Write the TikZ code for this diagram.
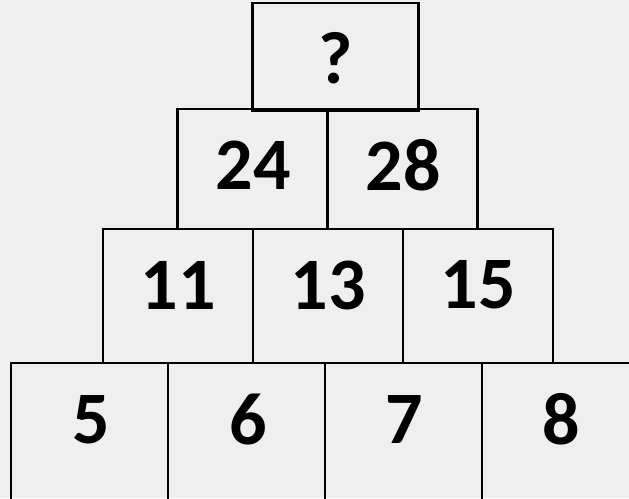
\documentclass[tikz,border=0pt]{standalone}
\usepackage{fontspec}
\setmainfont{Carlito}
\usepackage{xcolor}
\definecolor{paper}{HTML}{EFEFEF}

\begin{document}
\begin{tikzpicture}[
    x=1pt, y=-1pt,
    font=\bfseries\fontsize{74}{74}\selectfont,
    cell/.style={draw=black, line width=2pt, inner sep=0pt, outer sep=0pt,
        minimum width=#1},
    cell/.default=150pt,
    num/.style={inner sep=0pt}
]

    % Page
    \fill[paper] (0, 0) rectangle (629, 498);
    \clip (0, 0) rectangle (629, 498);

    % Row 4 (bottom)
    \node[cell=157pt, minimum height=140pt] (r4a) at (89.5, 433) {};
    \node[cell=157pt, minimum height=140pt] (r4b) at (246.5, 433) {};
    \node[cell=157pt, minimum height=140pt] (r4c) at (403.5, 433) {};
    \node[cell=157pt, minimum height=140pt] (r4d) at (560.5, 433) {};

    % Row 3
    \node[cell, minimum height=134pt] (r3a) at (178, 296) {};
    \node[cell, minimum height=134pt] (r3b) at (328, 296) {};
    \node[cell, minimum height=134pt] (r3c) at (478, 296) {};

    % Row 2
    \node[cell, line width=2.4pt, minimum height=120pt] (r2a) at (252.5, 169) {};
    \node[cell, line width=2.4pt, minimum height=120pt] (r2b) at (402.5, 169) {};

    % Top
    \node[cell=166pt, line width=2.8pt, minimum height=108pt] (apex) at (335.5, 57) {};

    % Numbers
    \node[num] (q) at (335.5, 58) {?};
    \node[num] (n24) at (253, 165) {24};
    \node[num] (n28) at (403, 165) {28};
    \node[num] (n11) at (178, 285) {11};
    \node[num] (n13) at (328, 285) {13};
    \node[num] (n15) at (478.5, 285) {15};
    \node[num] (n5) at (91, 419.5) {5};
    \node[num] (n6) at (248.5, 419.5) {6};
    \node[num] (n7) at (404, 419.5) {7};
    \node[num] (n8) at (561, 419.5) {8};

\end{tikzpicture}
\end{document}
